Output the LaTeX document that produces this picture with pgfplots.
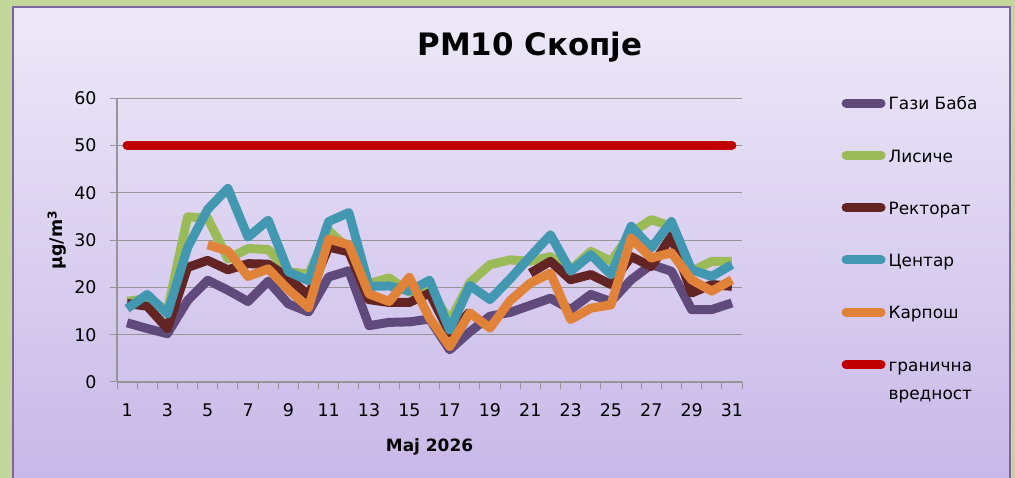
\documentclass[border=0pt]{standalone}
\usepackage{fontspec}
\setmainfont{DejaVu Sans}
\usepackage{pgfplots}
\usepackage{pgfplotstable}
\pgfplotsset{compat=1.18}
\definecolor{bggreen}{RGB}{196,215,155}
\definecolor{paneltop}{RGB}{238,233,249}
\definecolor{panelbot}{RGB}{200,184,232}
\definecolor{panelborder}{RGB}{128,100,162}
\definecolor{cgb}{RGB}{96,74,123}
\definecolor{clis}{RGB}{155,187,89}
\definecolor{crek}{RGB}{99,37,35}
\definecolor{ccen}{RGB}{66,152,176}
\definecolor{ckar}{RGB}{224,130,56}
\definecolor{cred}{RGB}{192,0,0}
\definecolor{gridgray}{RGB}{150,150,150}

\pgfplotstableread{
day gb lis rek cen kar lim
1 12.5 17.0 16.6 15.5 nan 50
2 11.3 17.7 16.0 18.5 nan 50
3 10.2 15.0 11.3 14.4 nan 50
4 17.2 34.9 24.2 28.4 nan 50
5 21.5 34.6 25.7 36.5 29.0 50
6 19.4 26.0 23.7 40.9 27.7 50
7 17.0 28.2 25.0 30.6 22.3 50
8 21.3 28.0 24.9 34.2 23.9 50
9 16.5 23.3 22.0 23.3 19.5 50
10 14.8 22.8 18.3 21.4 15.7 50
11 22.2 32.0 28.5 33.9 30.2 50
12 23.5 28.0 27.5 35.8 29.0 50
13 11.9 20.8 17.4 20.2 18.6 50
14 12.6 22.0 16.8 20.3 17.0 50
15 12.7 19.0 16.8 19.2 22.1 50
16 13.3 19.9 18.8 21.5 13.5 50
17 6.8 12.8 10.4 11.0 7.5 50
18 10.6 21.0 14.8 20.4 14.6 50
19 13.9 24.8 nan 17.4 11.4 50
20 14.7 25.8 nan 21.8 17.2 50
21 16.2 25.5 23.0 26.5 20.9 50
22 17.7 26.5 25.5 31.1 23.0 50
23 15.3 23.7 21.6 23.4 13.2 50
24 18.5 27.6 22.7 26.9 15.6 50
25 17.0 25.5 20.6 22.7 16.3 50
26 21.6 31.5 26.5 32.9 30.4 50
27 24.8 34.3 24.4 28.3 26.2 50
28 23.4 32.9 30.8 33.9 27.3 50
29 15.3 23.4 18.8 23.7 21.6 50
30 15.3 25.5 20.6 22.3 19.2 50
31 16.7 25.5 20.2 24.8 21.6 50
}\datatable

\begin{document}
\begin{tikzpicture}
\useasboundingbox (0,0) rectangle (1015bp,478bp);
\fill[bggreen] (0,0) rectangle (1015bp,478bp);
\shade[top color=paneltop, bottom color=panelbot] (13bp,0bp) rectangle (1010bp,471bp);
\draw[panelborder, line width=1.8bp] (13bp,-2bp) -- (13bp,471bp) -- (1010bp,471bp) -- (1010bp,-2bp);
\node[font=\fontsize{31}{37}\selectfont\bfseries, anchor=center] at (530bp,431bp) {PM10 Скопје};
\begin{axis}[
  at={(117bp,96bp)}, anchor=south west,
  scale only axis, width=625bp, height=284bp,
  xmin=0.5, xmax=31.5, ymin=0, ymax=60,
  axis x line*=bottom, axis y line*=left,
  axis line style={gridgray, line width=1.2bp, -},
  ytick={0,10,...,60},
  ymajorgrids, major grid style={gridgray, line width=1bp},
  xtick={0.5,1.5,...,31.5}, xticklabels={},
  extra x ticks={1,3,...,31},
  extra x tick style={major tick length=0pt, grid=none},
  tick align=outside, major tick length=7bp,
  tick style={gridgray, line width=1bp},
  /pgf/number format/assume math mode=true,
  ticklabel style={font=\fontsize{17.5}{20}\selectfont, text=black},
  xticklabel style={yshift=-18bp},
  yticklabel style={xshift=-10bp},
  unbounded coords=jump,
  xlabel={\textbf{Мај 2026}},
  xlabel style={at={(axis description cs:0.5,-0.228)}, anchor=center, font=\fontsize{17}{20}\selectfont},
  ylabel={\textbf{µg/m\textsuperscript{3}}},
  ylabel style={at={(axis description cs:-0.096,0.5)}, anchor=center, font=\fontsize{17.5}{20}\selectfont},
  legend style={at={(1.159,1.005)}, anchor=north west, draw=none, fill=none,
    inner sep=0pt, column sep=3bp, cells={anchor=base west},
    nodes={inner sep=0pt, text height=13bp, text depth=39.3bp},
    font=\fontsize{17}{28.4}\selectfont},
  legend image code/.code={\draw[#1, line cap=round] (0bp,6.7bp) -- (35bp,6.7bp);},
  every axis plot/.append style={line width=9bp, line join=round, mark=none},
]
\addplot[cgb] table[x=day, y=gb] {\datatable};
\addlegendentry{Гази Баба}
\addplot[clis] table[x=day, y=lis] {\datatable};
\addlegendentry{Лисиче}
\addplot[crek] table[x=day, y=rek] {\datatable};
\addlegendentry{Ректорат}
\addplot[ccen] table[x=day, y=cen] {\datatable};
\addlegendentry{Центар}
\addplot[ckar] table[x=day, y=kar] {\datatable};
\addlegendentry{Карпош}
\addplot[cred, line cap=round] table[x=day, y=lim] {\datatable};
\addlegendentry{\begin{tabular}[t]{@{}l@{}}гранична\\вредност\end{tabular}}
\end{axis}
\end{tikzpicture}
\end{document}
